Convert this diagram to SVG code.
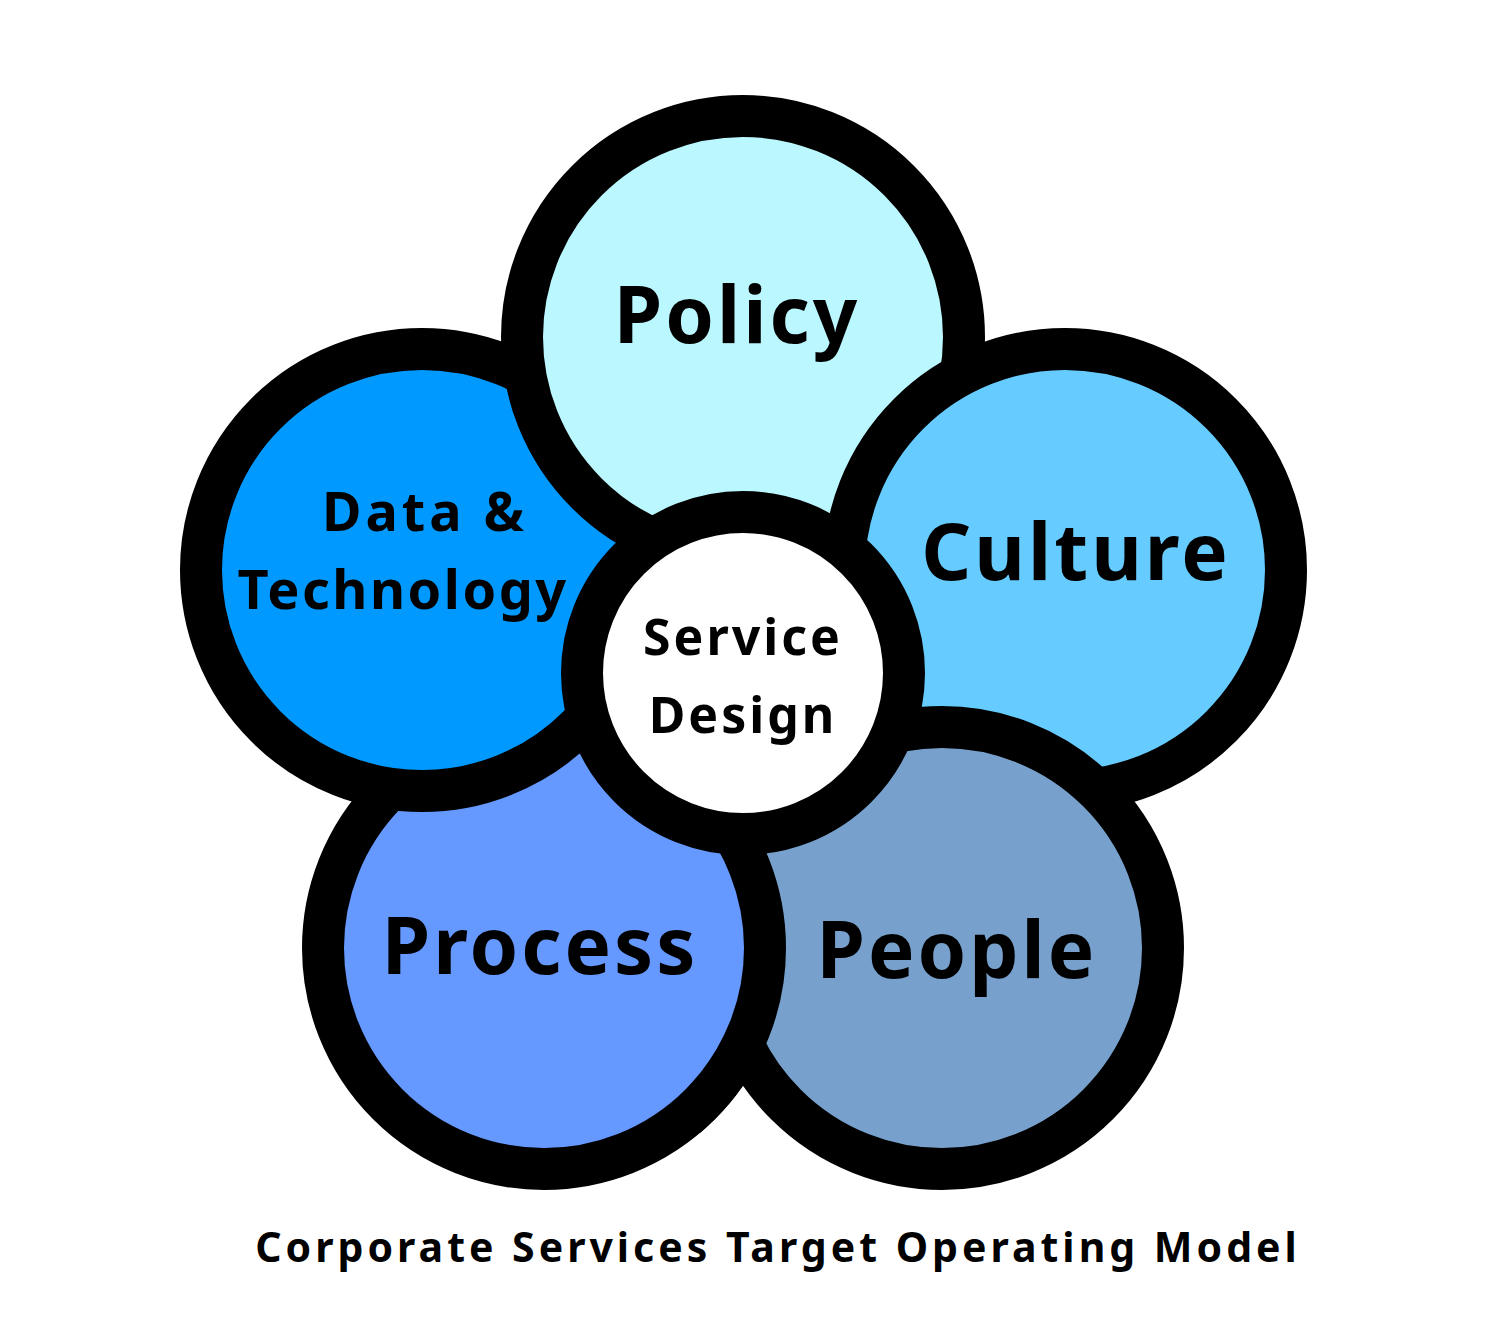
<svg xmlns="http://www.w3.org/2000/svg" width="1500" height="1319" viewBox="0 0 1500 1319">
<style>
.ring{stroke:#000;stroke-width:42}
.t{font-family:"Noto Sans","DejaVu Sans",sans-serif;font-weight:bold;fill:#000;text-anchor:middle}
</style>
<defs><clipPath id="cr"><rect x="700" y="700" width="200" height="500"/></clipPath></defs>
<rect width="1500" height="1319" fill="#fff"/>
<g id="process"><circle class="ring" cx="544" cy="948" r="221" fill="#6699ff"/></g>
<g id="data"><circle class="ring" cx="422" cy="570" r="221" fill="#0099ff"/></g>
<g id="policy"><circle class="ring" cx="743" cy="337" r="221" fill="#bbf7ff"/></g>
<g id="culture"><circle class="ring" cx="1065" cy="570" r="221" fill="#66ccff"/></g>
<g id="people"><circle class="ring" cx="942" cy="948" r="221" fill="#77a1cc"/></g>
<g id="process-top" clip-path="url(#cr)"><circle class="ring" cx="544" cy="948" r="221" fill="#6699ff"/></g>
<g id="service"><circle class="ring" cx="743" cy="673" r="161" fill="#fff"/></g>
<g id="labels">
<text class="t" x="737" y="343" font-size="78" letter-spacing="3">Policy</text>
<text class="t" x="1076" y="580" font-size="78" letter-spacing="3">Culture</text>
<text class="t" x="540" y="974" font-size="78" letter-spacing="3">Process</text>
<text class="t" x="957" y="978" font-size="78" letter-spacing="3">People</text>
<text class="t" x="425" y="531" font-size="54" letter-spacing="4">Data &amp;</text>
<text class="t" x="403" y="609" font-size="54" letter-spacing="2.5">Technology</text>
<text class="t" x="743" y="655" font-size="50" letter-spacing="3">Service</text>
<text class="t" x="743" y="733" font-size="50" letter-spacing="3">Design</text>
<text class="t" x="778" y="1262" font-size="41" letter-spacing="4">Corporate Services Target Operating Model</text>
</g>
<g id="connectors"/>
</svg>
